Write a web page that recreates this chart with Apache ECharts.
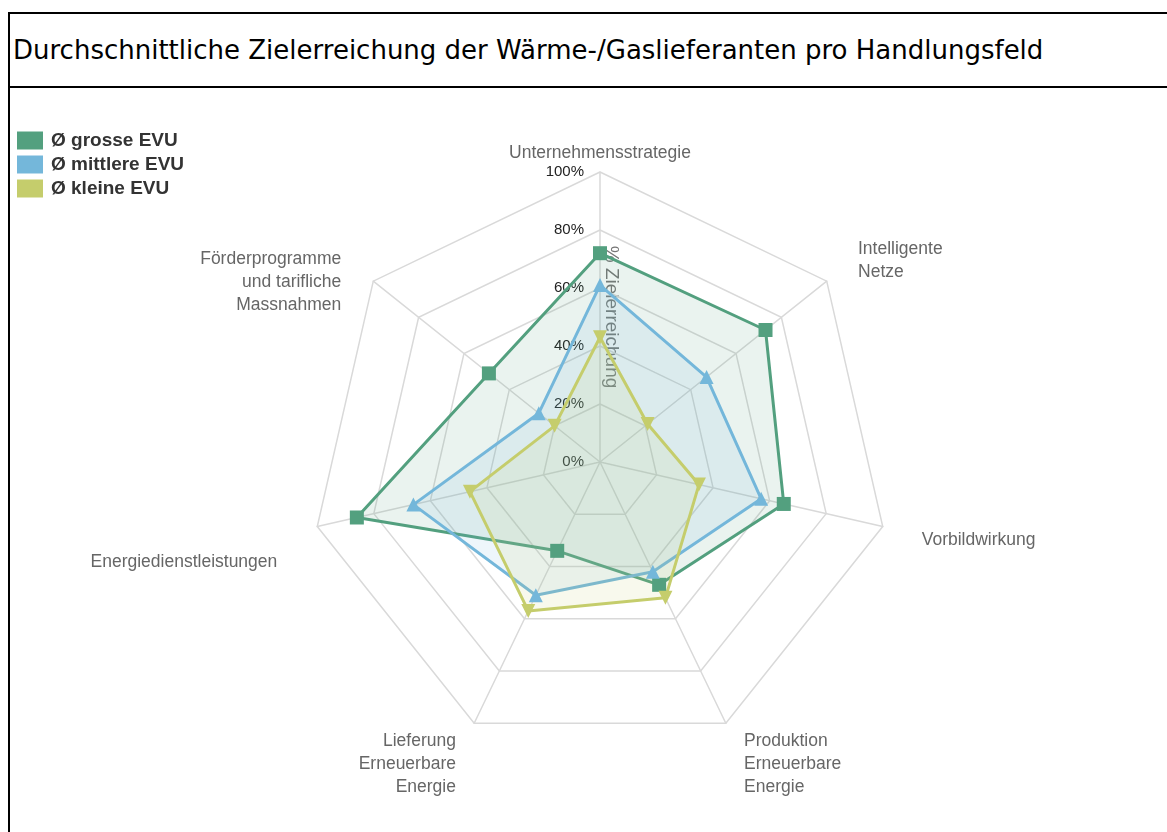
<!DOCTYPE html>
<html>
<head>
<meta charset="utf-8">
<title>Zielerreichung Wärme-/Gaslieferanten</title>
<script src="https://cdn.jsdelivr.net/npm/echarts@6/dist/echarts.min.js"></script>
<style>
  html, body { margin: 0; padding: 0; background: #fff; overflow: hidden; }
  #frame {
    position: absolute; left: 8px; top: 12px; width: 1250px; height: 900px;
    border-left: 2px solid #000; border-top: 2px solid #000;
  }
  #title {
    height: 72px; line-height: 72px; padding-left: 3px;
    border-bottom: 2px solid #000;
    font-family: "DejaVu Sans", sans-serif;
    font-size: 26px; color: #000; white-space: nowrap;
  }
  #chart { position: absolute; left: 0; top: 0; width: 1167px; height: 832px; }
</style>
</head>
<body>
<div id="frame"><div id="title">Durchschnittliche Zielerreichung der Wärme-/Gaslieferanten pro Handlungsfeld</div></div>
<div id="chart"></div>
<script>
// Handlungsfelder (ECharts zeichnet gegen den Uhrzeigersinn ab oben)
var fields = [
  'Unternehmensstrategie',
  'Förderprogramme\nund tarifliche\nMassnahmen',
  'Energiedienstleistungen',
  'Lieferung\nErneuerbare\nEnergie',
  'Produktion\nErneuerbare\nEnergie',
  'Vorbildwirkung',
  'Intelligente\nNetze'
]
var groups = ['Ø grosse EVU', 'Ø mittlere EVU', 'Ø kleine EVU']
var grosse = [72, 49, 86, 34, 47, 65, 73]
var mittlere = [61, 27, 66, 51, 42, 57, 47]
var kleine = [43, 20, 46, 57, 52, 35, 21]
var axisTitle = '% Zielerreichung'

var colors = ['#53a07f', '#74b7da', '#c5cd6c']
var symbols = ['rect', 'triangle', 'triangle']
var rotates = [0, 0, 180]

// name placement per axis: [nameGap, vertical shift] (shift null = default layout)
var nameLayout = [[4, null], [41, 27], [41, 27], [42, 3], [42, 3], [40, 5], [40, 4]]
var nameLineHeight = 23

var chart = echarts.init(document.getElementById('chart'))

var indicator = fields.map(function (f, i) {
  var ind = { name: f, min: 0, max: 100, nameGap: nameLayout[i][0] }
  var shift = nameLayout[i][1]
  if (shift !== null) {
    var lines = f.split('\n').length
    // top aligned + padding behaves like 'middle' moved down by shift
    ind.nameTextStyle = {
      verticalAlign: 'top',
      padding: [shift - lines * nameLineHeight / 2, 0, 0, 0]
    }
  }
  if (i === 0) {
    ind.axisLabel = {
      show: true,
      margin: 16,
      color: '#222',
      fontSize: 15,
      fontFamily: 'Liberation Sans, Arial, sans-serif',
      formatter: '{value}%'
    }
  }
  return ind
})

var values = [grosse, mittlere, kleine]

chart.setOption({
  animation: false,
  color: colors,
  legend: {
    orient: 'vertical',
    left: 17,
    top: 131,
    padding: 0,
    icon: 'rect',
    itemWidth: 26,
    itemHeight: 18,
    itemGap: 5,
    data: groups,
    textStyle: {
      fontSize: 19,
      fontWeight: 'bold',
      color: '#333',
      padding: [0, 0, 0, 3],
      fontFamily: 'Liberation Sans, Arial, sans-serif'
    }
  },
  radar: {
    center: [600, 462],
    radius: 290,
    shape: 'polygon',
    splitNumber: 5,
    indicator: indicator,
    axisName: {
      color: '#666',
      fontSize: 17.5,
      lineHeight: nameLineHeight,
      fontFamily: 'Liberation Sans, Arial, sans-serif'
    },
    axisLabel: { show: false },
    axisLine: { lineStyle: { color: '#d9d9d9', width: 1.5 } },
    splitLine: { lineStyle: { color: '#d9d9d9', width: 1.5 } },
    splitArea: { show: false }
  },
  graphic: [{
    type: 'text',
    x: 611,
    y: 317,
    rotation: -Math.PI / 2,
    style: {
      text: axisTitle,
      fill: '#777',
      fontSize: 19,
      fontFamily: 'Liberation Sans, Arial, sans-serif',
      align: 'center',
      verticalAlign: 'middle'
    }
  }],
  series: groups.map(function (g, i) {
    return {
      name: g,
      type: 'radar',
      symbol: symbols[i],
      symbolSize: 14,
      symbolRotate: rotates[i],
      lineStyle: { width: 3, color: colors[i] },
      itemStyle: { color: colors[i] },
      areaStyle: { color: colors[i], opacity: 0.12 },
      data: [{ name: g, value: values[i] }]
    }
  })
})
</script>
</body>
</html>
